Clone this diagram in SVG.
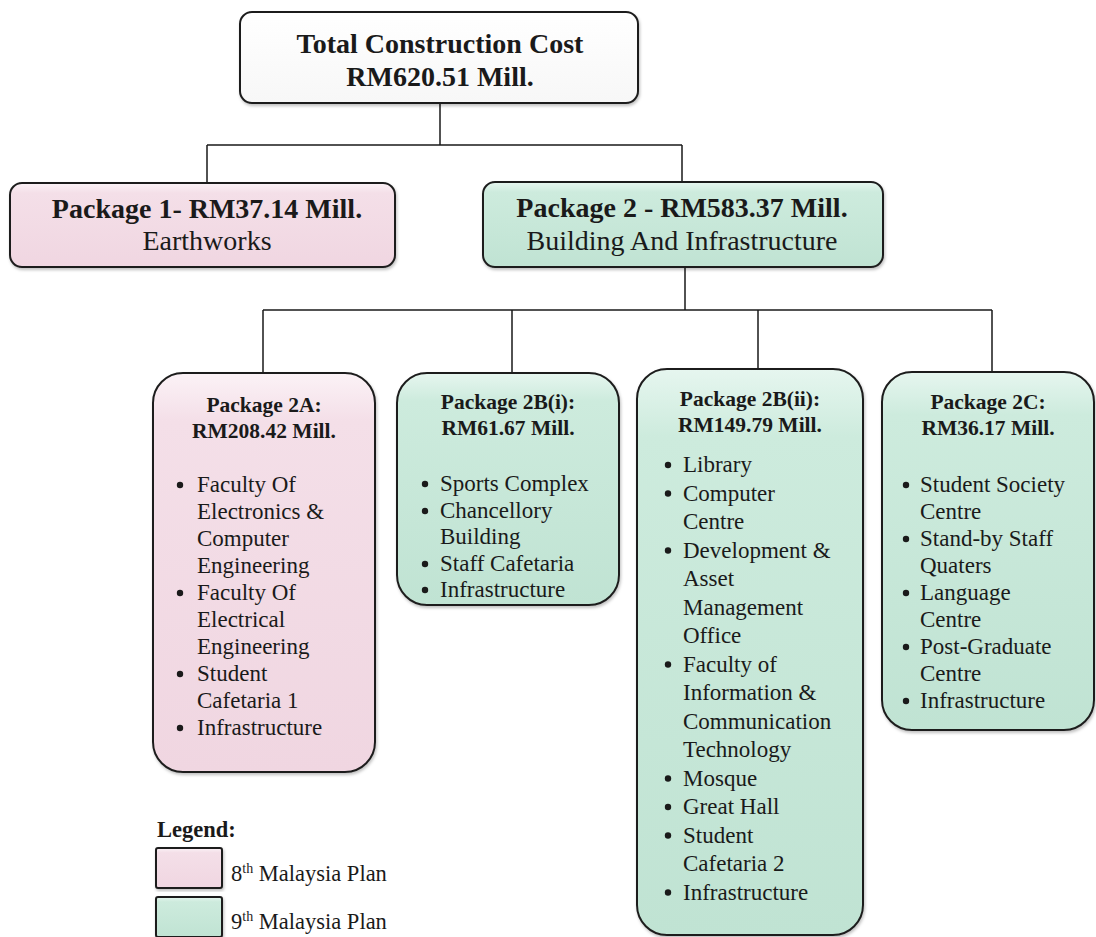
<svg xmlns="http://www.w3.org/2000/svg" width="1096" height="937" viewBox="0 0 1096 937">
<style>
.box{stroke:#1e1e1e;stroke-width:2}
.pink{fill:url(#gp)}
.green{fill:url(#gg)}
.white{fill:url(#gw)}
.t{font-family:"Liberation Serif","Times New Roman",serif;fill:#1a1a1a}
.h1{font-size:28px;font-weight:bold;text-anchor:middle}
.h1r{font-size:28px;text-anchor:middle}
.h2{font-size:21.5px;font-weight:bold;text-anchor:middle}
.li{font-size:23px}
.lg{font-size:22.5px}
.conn{stroke:#1a1a1a;stroke-width:1.5;fill:none}
.dot{fill:#1a1a1a}
</style>
<defs>
<linearGradient id="gp" x1="0" y1="0" x2="0" y2="1">
<stop offset="0" stop-color="#fbf2f6"/>
<stop offset="0.12" stop-color="#f4dfe8"/>
<stop offset="1" stop-color="#f0d6e1"/>
</linearGradient>
<linearGradient id="gg" x1="0" y1="0" x2="0" y2="1">
<stop offset="0" stop-color="#e6f6ef"/>
<stop offset="0.12" stop-color="#cdebdd"/>
<stop offset="1" stop-color="#c0e3d3"/>
</linearGradient>
<linearGradient id="gw" x1="0" y1="0" x2="0" y2="1">
<stop offset="0" stop-color="#ffffff"/>
<stop offset="1" stop-color="#f7f7f7"/>
</linearGradient>
<filter id="sh" x="-10%" y="-10%" width="120%" height="120%">
<feDropShadow dx="1" dy="2" stdDeviation="1.5" flood-color="#000" flood-opacity="0.25"/>
</filter>
</defs>
<rect width="1096" height="937" fill="#ffffff"/>

<g id="connectors">
<path class="conn" d="M440,103 V145 M207,145 H682 M207,145 V183 M682,145 V182"/>
<path class="conn" d="M685,267 V310 M263,310 H992 M263,310 V373 M512,310 V373 M758,310 V369 M992,310 V372"/>
</g>

<g id="total">
<rect class="box white" filter="url(#sh)" x="240" y="12" width="398" height="91" rx="12"/>
<text class="t h1" x="440" y="53">Total Construction Cost</text>
<text class="t h1" x="440" y="86">RM620.51 Mill.</text>
</g>

<g id="package1">
<rect class="box pink" filter="url(#sh)" x="10" y="183" width="385" height="84" rx="12"/>
<text class="t h1" x="207" y="218">Package 1- RM37.14 Mill.</text>
<text class="t h1r" x="207" y="250">Earthworks</text>
</g>

<g id="package2">
<rect class="box green" filter="url(#sh)" x="483" y="182" width="400" height="85" rx="12"/>
<text class="t h1" x="682" y="217">Package 2 - RM583.37 Mill.</text>
<text class="t h1r" x="682" y="250">Building And Infrastructure</text>
</g>

<g id="package2A">
<rect class="box pink" filter="url(#sh)" x="153" y="373" width="222" height="399" rx="30"/>
<text class="t h2" x="264" y="412">Package 2A:</text>
<text class="t h2" x="264" y="438">RM208.42 Mill.</text>
<g class="dot">
<circle cx="180" cy="485" r="3.2"/><circle cx="180" cy="593" r="3.2"/><circle cx="180" cy="674" r="3.2"/><circle cx="180" cy="728" r="3.2"/>
</g>
<text class="t li" x="197" y="492">Faculty Of</text>
<text class="t li" x="197" y="519">Electronics &amp;</text>
<text class="t li" x="197" y="546">Computer</text>
<text class="t li" x="197" y="573">Engineering</text>
<text class="t li" x="197" y="600">Faculty Of</text>
<text class="t li" x="197" y="627">Electrical</text>
<text class="t li" x="197" y="654">Engineering</text>
<text class="t li" x="197" y="681">Student</text>
<text class="t li" x="197" y="708">Cafetaria 1</text>
<text class="t li" x="197" y="735">Infrastructure</text>
</g>

<g id="package2Bi">
<rect class="box green" filter="url(#sh)" x="397" y="373" width="222" height="232" rx="30"/>
<text class="t h2" x="508" y="409">Package 2B(i):</text>
<text class="t h2" x="508" y="435">RM61.67 Mill.</text>
<g class="dot">
<circle cx="425" cy="484" r="3.2"/><circle cx="425" cy="511" r="3.2"/><circle cx="425" cy="564" r="3.2"/><circle cx="425" cy="590" r="3.2"/>
</g>
<text class="t li" x="440" y="491">Sports Complex</text>
<text class="t li" x="440" y="517.5">Chancellory</text>
<text class="t li" x="440" y="544">Building</text>
<text class="t li" x="440" y="570.5">Staff Cafetaria</text>
<text class="t li" x="440" y="597">Infrastructure</text>
</g>

<g id="package2Bii">
<rect class="box green" filter="url(#sh)" x="637" y="369" width="226" height="566" rx="30"/>
<text class="t h2" x="750" y="406">Package 2B(ii):</text>
<text class="t h2" x="750" y="432">RM149.79 Mill.</text>
<g class="dot">
<circle cx="668" cy="465" r="3.2"/><circle cx="668" cy="493.5" r="3.2"/><circle cx="668" cy="550.5" r="3.2"/><circle cx="668" cy="664.5" r="3.2"/><circle cx="668" cy="778.5" r="3.2"/><circle cx="668" cy="807" r="3.2"/><circle cx="668" cy="835.5" r="3.2"/><circle cx="668" cy="892.5" r="3.2"/>
</g>
<text class="t li" x="683" y="472">Library</text>
<text class="t li" x="683" y="500.5">Computer</text>
<text class="t li" x="683" y="529">Centre</text>
<text class="t li" x="683" y="557.5">Development &amp;</text>
<text class="t li" x="683" y="586">Asset</text>
<text class="t li" x="683" y="614.5">Management</text>
<text class="t li" x="683" y="643">Office</text>
<text class="t li" x="683" y="671.5">Faculty of</text>
<text class="t li" x="683" y="700">Information &amp;</text>
<text class="t li" x="683" y="728.5">Communication</text>
<text class="t li" x="683" y="757">Technology</text>
<text class="t li" x="683" y="785.5">Mosque</text>
<text class="t li" x="683" y="814">Great Hall</text>
<text class="t li" x="683" y="842.5">Student</text>
<text class="t li" x="683" y="871">Cafetaria 2</text>
<text class="t li" x="683" y="899.5">Infrastructure</text>
</g>

<g id="package2C">
<rect class="box green" filter="url(#sh)" x="882" y="372" width="212" height="358" rx="30"/>
<text class="t h2" x="988" y="409">Package 2C:</text>
<text class="t h2" x="988" y="435">RM36.17 Mill.</text>
<g class="dot">
<circle cx="906" cy="485" r="3.2"/><circle cx="906" cy="539" r="3.2"/><circle cx="906" cy="593" r="3.2"/><circle cx="906" cy="647" r="3.2"/><circle cx="906" cy="701" r="3.2"/>
</g>
<text class="t li" x="920" y="492">Student Society</text>
<text class="t li" x="920" y="519">Centre</text>
<text class="t li" x="920" y="546">Stand-by Staff</text>
<text class="t li" x="920" y="573">Quaters</text>
<text class="t li" x="920" y="600">Language</text>
<text class="t li" x="920" y="627">Centre</text>
<text class="t li" x="920" y="654">Post-Graduate</text>
<text class="t li" x="920" y="681">Centre</text>
<text class="t li" x="920" y="708">Infrastructure</text>
</g>

<g id="legend">
<text class="t lg" x="157" y="837" font-weight="bold">Legend:</text>
<rect class="box pink" filter="url(#sh)" x="156" y="848" width="66" height="40" rx="2"/>
<rect class="box green" filter="url(#sh)" x="156" y="897" width="66" height="40" rx="2"/>
<text class="t lg" x="231" y="881">8<tspan font-size="14" dy="-8">th</tspan><tspan dy="8"> Malaysia Plan</tspan></text>
<text class="t lg" x="231" y="929">9<tspan font-size="14" dy="-8">th</tspan><tspan dy="8"> Malaysia Plan</tspan></text>
</g>
</svg>
